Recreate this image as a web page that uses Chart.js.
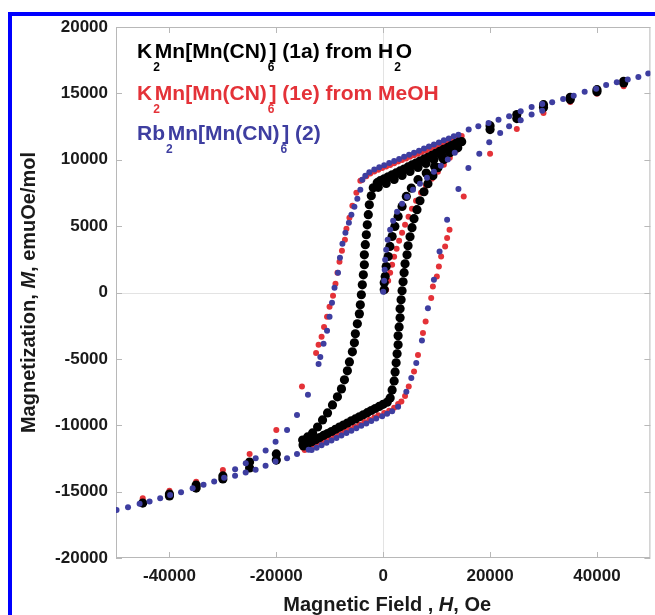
<!DOCTYPE html>
<html>
<head>
<meta charset="utf-8">
<script src="https://cdn.jsdelivr.net/npm/chart.js@4.4.1/dist/chart.umd.min.js"></script>
<style>
  html, body { margin: 0; padding: 0; background: #fff; }
  #frame { position: absolute; left: 8px; top: 12px; width: 647px; height: 603px;
           border-left: 4px solid #0000ff; border-top: 4px solid #0000ff; box-sizing: border-box; }
  #wrap { position: absolute; left: 0; top: 0; width: 655px; height: 615px; }
</style>
</head>
<body>
<div id="frame"></div>
<div id="wrap"><canvas id="hysteresis"></canvas></div>
<script>
// axis ticks
var fieldTicks = [-40000, -20000, 0, 20000, 40000];
var momentTicks = [-20000, -15000, -10000, -5000, 0, 5000, 10000, 15000, 20000];

// [H (Oe), M (emu Oe/mol)] for K2Mn[Mn(CN)6] (1a) from water
var points1a = [
    [20000,12570],[20000,12270],[25000,13400],[25000,13100],[30000,14150],[30000,13930],
    [35000,14700],[35000,14530],[40000,15280],[40000,15130],[45000,15910],[45000,15780],
    [14300,11380],[13600,11230],[12800,11080],[12100,10930],[11300,10780],[10600,10640],
    [9860,10490],[9110,10340],[8370,10190],[7630,10040],[6880,9900],[6140,9750],[5390,9610],
    [4650,9460],[3910,9300],[3160,9160],[2420,9010],[1670,8870],[930,8720],[190,8570],
    [-560,8420],[-1120,8270],
    [13950,10900],[12460,10620],[10970,10320],[9490,10020],[8000,9720],[6510,9420],
    [5020,9120],[3530,8820],[2050,8520],[560,8220],[-930,7920],
    [-1860,7890],[-2230,7290],[-2600,6610],[-2790,5860],[-2980,5100],[-3160,4350],[-3350,3600],
    [-3530,2840],[-3530,2090],[-3720,1330],[-3910,580],[-4090,-170],[-4280,-930],[-4460,-1610],
    [-4840,-2360],[-5210,-3110],[-5390,-3790],[-5770,-4470],[-6320,-5230],[-6700,-5900],
    [-7250,-6580],[-7810,-7260],[-8560,-7860],[-9490,-8470],[-10420,-9070],[-11350,-9600],
    [-12280,-10130],[-13210,-10580],[-14140,-10880],[-15070,-11110],
    [-15000,-11480],[-20000,-12160],[-20000,-12620],[-25000,-12770],[-25000,-13220],
    [-30000,-13820],[-30000,-14050],[-35000,-14500],[-35000,-14730],[-40000,-15180],
    [-40000,-15330],[-45000,-15860],
    [-14880,-11560],[-14140,-11400],[-13390,-11250],[-12650,-11090],[-11900,-10930],
    [-11160,-10770],[-10420,-10620],[-9670,-10470],[-8930,-10310],[-8180,-10140],[-7440,-9990],
    [-6700,-9830],[-5950,-9670],[-5210,-9520],[-4460,-9360],[-3720,-9210],[-2980,-9050],
    [-2230,-8890],[-1490,-8740],[-740,-8580],[0,-8420],[740,-8260],
    [1300,-7940],[1670,-7340],[2050,-6660],[2230,-5980],[2420,-5300],[2600,-4620],[2790,-3940],
    [2790,-3260],[2980,-2590],[3160,-1910],[3160,-1230],[3350,-550],[3530,130],[3720,810],
    [3910,1490],[4090,2160],[4460,2840],[4650,3520],[5020,4200],[5390,4880],[5770,5560],
    [6320,6240],[6880,6910],[7630,7590],[8370,8200],[9300,8800],[10230,9400],[11350,10010],
    [12460,10530],[13580,10990],[14690,11360],
    [190,200],[190,730],[370,1210],[560,1960],[930,2710],[1250,3470],[1670,4220],[2180,4980],
    [2790,5730],[3530,6480],[4330,7240],[5260,7870],[6510,8500],[8050,9000],[9620,9500],
    [11160,10130],[12410,10760]
];

// K2Mn[Mn(CN)6] (1e) from methanol
var points1e = [
    [45000,15800],[45000,15530],[40000,15280],[40000,14980],[35000,14660],[35000,14350],
    [30000,14020],[30000,13530],[25000,13250],[25000,12320],[20000,12390],[20000,10460],
    [14690,11790],[13950,11660],[13210,11540],[12460,11420],[11720,11300],[10970,11180],
    [10230,11060],[9490,10940],[8740,10820],[8000,10700],[7250,10580],[6510,10460],[5770,10340],
    [5020,10220],[4280,10100],[3530,9980],[2790,9860],[2050,9730],[1300,9610],[560,9490],
    [-190,9370],[-930,9250],[-1670,9120],[-2420,8970],[-3160,8760],[-3910,8500],
    [-4280,8420],[-5020,7520],[-5770,6540],[-6320,5630],[-6880,4800],[-7160,3970],[-7720,3140],
    [-8180,2310],[-8560,1490],[-8930,660],[-9390,-250],[-10040,-1080],[-10510,-1830],
    [-11070,-2590],[-11530,-3340],[-12090,-3940],[-12560,-4550],[-15200,-7090],
    [-20000,-10350],[-25000,-12160],[-30000,-13370],[-35000,-14250],[-40000,-14930],[-45000,-15500],
    [-15000,-11700],[-20000,-12400],[-25000,-13200],[-30000,-13900],[-35000,-14600],
    [-40000,-15200],[-45000,-15800],
    [-14690,-11860],[-13760,-11690],[-12830,-11510],[-11900,-11330],[-10970,-11160],
    [-10040,-10990],[-9110,-10810],[-8180,-10640],[-7250,-10460],[-6320,-10290],[-5390,-10110],
    [-4460,-9940],[-3530,-9760],[-2600,-9590],[-1670,-9420],[-930,-9240],[190,-9070],[1120,-8900],
    [2050,-8690],[2790,-8390],[3400,-8220],[4090,-7790],[4780,-7090],[5770,-5960],[6510,-4700],
    [7440,-3060],[7940,-2190],[8980,-420],[9300,450],[10040,1210],[10420,1960],[10840,2710],
    [11590,3470],[11960,4100],[12410,4730],[15070,7240],
    [560,200],[930,880],[1300,1490],[1670,2090],[2050,2690],[2510,3300],[2980,3900],[3530,4500],
    [4090,5100],[4740,5710],[5390,6310],[6140,6910],[7070,7520],[8000,8050],[9110,8570],
    [10230,9100],[11350,9630],[12460,10160],[13580,10680]
];

// Rb2Mn[Mn(CN)6] (2)
var points2 = [
    [49600,16490],[47750,16240],[45760,16040],[43710,15830],[41720,15640],[39860,15340],
    [37700,15130],[35650,14830],[33670,14580],[31620,14330],[29760,14200],[27770,13980],
    [25730,13650],[23560,13270],[21580,13020],[19720,12770],[17800,12520],[16000,12270],
    [14080,11890],
    [13210,11770],[12280,11610],[11350,11460],[10420,11300],[9490,11140],[8560,10990],
    [7630,10840],[6700,10680],[5770,10530],[4840,10370],[3910,10220],[2980,10060],[2050,9900],
    [1120,9750],[190,9590],[-740,9430],[-1670,9270],[-2600,9060],[-3350,8800],
    [-3910,8500],[-4280,7740],[-4840,7070],[-5390,6460],[-5950,5860],[-6420,5260],[-7070,4500],
    [-7630,3670],[-8090,2620],[-8460,1490],[-9110,350],[-9580,-780],[-10040,-1830],
    [-10510,-2890],[-11160,-3870],[-11770,-4850],[-12090,-5380],[-14080,-7710],[-16130,-9220],
    [-17990,-10350],[-20140,-11240],[-22000,-11910],[-23860,-12490],[-25720,-12860],
    [-27710,-13320],
    [-49900,-16380],[-47750,-16170],[-45580,-15920],[-43720,-15750],[-41730,-15500],
    [-39870,-15250],[-37830,-15040],[-35660,-14740],[-33620,-14490],[-31630,-14240],
    [-29770,-13950],[-27720,-13800],[-25730,-13560],[-23870,-13360],[-22010,-13060],
    [-20150,-12730],[-17990,-12480],[-16130,-12160],[-13950,-11850],
    [-13390,-11870],[-12460,-11690],[-11530,-11500],[-10600,-11320],[-9670,-11140],
    [-8740,-10960],[-7810,-10780],[-6880,-10590],[-5950,-10410],[-5020,-10220],[-4090,-10040],
    [-3160,-9860],[-2230,-9680],[-1300,-9500],[-190,-9320],[740,-9130],[1670,-8950],
    [2790,-8600],[4330,-7470],[5260,-6450],[6190,-5320],[7250,-3620],[8370,-1180],[9490,960],
    [10550,3090],[11960,5480],[14080,7800],[15940,9380],[17980,10460],[19840,11310],
    [21890,12020],[23560,12520],[25730,12970],[27770,13400],[29760,13700],
    [0,50],[190,880],[280,1710],[370,2470],[560,3220],[840,3970],[1300,4730],[1860,5410],
    [2600,6090],[3530,6690],[4460,7220],[5580,7740],[6880,8200],[8180,8650],[9490,9100],
    [10790,9550],[12090,10010],[13390,10530]
];

var seriesColors = ['#000000', 'rgb(228,50,56)', 'rgb(62,62,160)'];

// legend lines: [text, kind] where kind 'sub' = subscript
var legendLines = [
    [['K', ''], ['2', 'sub'], ['Mn[Mn(CN)', ''], ['6', 'sub'], ['] (1a) from H', ''], ['2', 'sub'], ['O', '']],
    [['K', ''], ['2', 'sub'], ['Mn[Mn(CN)', ''], ['6', 'sub'], ['] (1e) from MeOH', '']],
    [['Rb', ''], ['2', 'sub'], ['Mn[Mn(CN)', ''], ['6', 'sub'], ['] (2)', '']]
];

var FONT = '"Liberation Sans", Arial, sans-serif';

function toXY(list) {
    return list.map(function(p) { return {x: p[0], y: p[1]}; });
}

function drawRich(ctx, parts, x, y, size) {
    parts.forEach(function(part) {
        var txt = part[0], kind = part[1];
        if (kind === 'sub') {
            ctx.font = 'bold ' + Math.round(size * 0.58) + 'px ' + FONT;
            ctx.fillText(txt, x + 1, y + size * 0.62);
            x += ctx.measureText(txt).width * 0.4;
        } else {
            ctx.font = (kind === 'i' ? 'italic ' : '') + 'bold ' + size + 'px ' + FONT;
            ctx.fillText(txt, x, y);
            x += ctx.measureText(txt).width;
        }
    });
}

function richWidth(ctx, parts, size) {
    var w = 0;
    parts.forEach(function(part) {
        ctx.font = (part[1] === 'i' ? 'italic ' : '') + 'bold ' + size + 'px ' + FONT;
        w += ctx.measureText(part[0]).width;
    });
    return w;
}

// box, inward tick marks and zero lines
var frameTicks = {
    id: 'frameTicks',
    beforeDatasetsDraw: function(chart) {
        var ctx = chart.ctx, a = chart.chartArea;
        var sx = chart.scales.x, sy = chart.scales.y;
        ctx.save();
        ctx.lineWidth = 1;
        ctx.strokeStyle = '#e3e3e3';
        var x0 = Math.round(sx.getPixelForValue(0)) + 0.5;
        var y0 = Math.round(sy.getPixelForValue(0)) + 0.5;
        ctx.beginPath();
        ctx.moveTo(x0, a.top); ctx.lineTo(x0, a.bottom);
        ctx.moveTo(a.left, y0); ctx.lineTo(a.right, y0);
        ctx.stroke();
        ctx.strokeStyle = '#b8b8b8';
        ctx.strokeRect(a.left + 0.5, a.top + 0.5, a.right - a.left - 1, a.bottom - a.top - 1);
        ctx.beginPath();
        fieldTicks.forEach(function(v) {
            var px = Math.round(sx.getPixelForValue(v)) + 0.5;
            ctx.moveTo(px, a.bottom); ctx.lineTo(px, a.bottom - 6);
            ctx.moveTo(px, a.top); ctx.lineTo(px, a.top + 6);
        });
        momentTicks.forEach(function(v) {
            var py = Math.round(sy.getPixelForValue(v)) + 0.5;
            ctx.moveTo(a.left, py); ctx.lineTo(a.left + 6, py);
            ctx.moveTo(a.right, py); ctx.lineTo(a.right - 6, py);
        });
        ctx.stroke();
        ctx.restore();
    },
    afterDraw: function(chart) {
        var ctx = chart.ctx, a = chart.chartArea;
        ctx.save();
        ctx.textBaseline = 'alphabetic';
        ctx.textAlign = 'left';
        // legend
        var baselines = [58, 100, 140];
        legendLines.forEach(function(line, i) {
            ctx.fillStyle = seriesColors[i];
            drawRich(ctx, line, 137, baselines[i], 21);
        });
        // axis titles
        ctx.fillStyle = '#1a1a1a';
        var xt = [['Magnetic Field , ', ''], ['H', 'i'], [', Oe', '']];
        var w = richWidth(ctx, xt, 20);
        drawRich(ctx, xt, (a.left + a.right) / 2 + 4 - w / 2, 611, 20);
        var yt = [['Magnetization, ', ''], ['M', 'i'], [', emuOe/mol', '']];
        w = richWidth(ctx, yt, 20);
        ctx.translate(35, (a.top + a.bottom) / 2);
        ctx.rotate(-Math.PI / 2);
        drawRich(ctx, yt, -w / 2, 0, 20);
        ctx.restore();
    }
};

function makeSet(label, list, color, radius, order) {
    return {
        label: label,
        data: toXY(list),
        backgroundColor: color,
        borderWidth: 0,
        pointRadius: radius,
        pointHoverRadius: radius,
        order: order
    };
}

var ctx = document.getElementById('hysteresis').getContext('2d');
var chart = new Chart(ctx, {
    type: 'scatter',
    data: {
        datasets: [
            makeSet('Rb2Mn[Mn(CN)6] (2)', points2, seriesColors[2], 3, 1),
            makeSet('K2Mn[Mn(CN)6] (1a) from H2O', points1a, seriesColors[0], 4.6, 2),
            makeSet('K2Mn[Mn(CN)6] (1e) from MeOH', points1e, seriesColors[1], 3, 3)
        ]
    },
    options: {
        responsive: true,
        maintainAspectRatio: false,
        animation: false,
        layout: { padding: { left: 0, top: 27, right: 1, bottom: 0 } },
        plugins: { legend: { display: false }, tooltip: { enabled: false } },
        scales: {
            x: {
                type: 'linear',
                min: -50000,
                max: 50000,
                grid: { display: false },
                border: { display: false },
                afterBuildTicks: function(scale) {
                    scale.ticks = fieldTicks.map(function(v) { return {value: v}; });
                },
                afterFit: function(scale) { scale.height = 57; },
                ticks: {
                    padding: 0,
                    maxRotation: 0,
                    color: '#1a1a1a',
                    font: { family: FONT, size: 17, weight: 'bold' },
                    callback: function(v) { return String(v); }
                }
            },
            y: {
                type: 'linear',
                min: -20000,
                max: 20000,
                grid: { display: false },
                border: { display: false },
                afterBuildTicks: function(scale) {
                    scale.ticks = momentTicks.map(function(v) { return {value: v}; });
                },
                afterFit: function(scale) { scale.width = 116; },
                ticks: {
                    padding: 0,
                    color: '#1a1a1a',
                    font: { family: FONT, size: 17, weight: 'bold' },
                    callback: function(v) { return String(v); }
                }
            }
        }
    },
    plugins: [frameTicks]
});
</script>
</body>
</html>
